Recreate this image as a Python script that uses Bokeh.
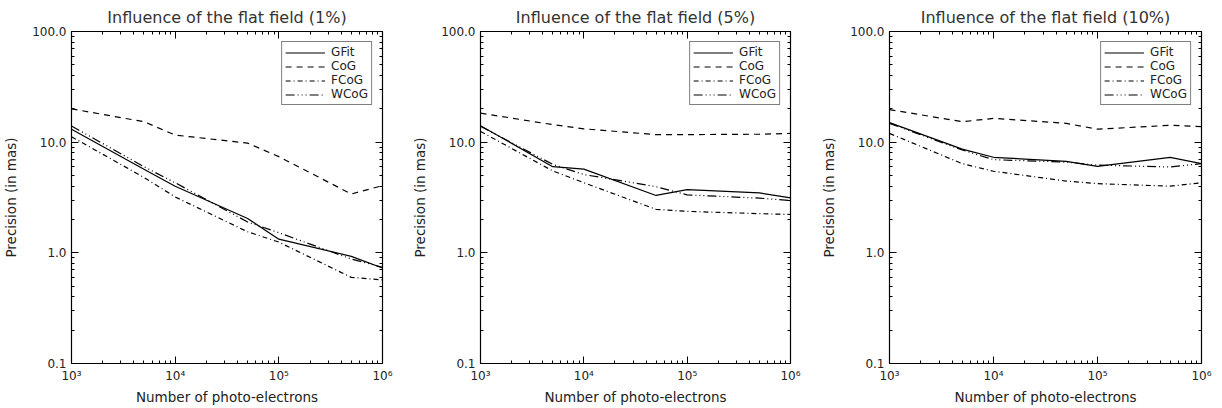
from bokeh.plotting import figure
from bokeh.layouts import row
from bokeh.models import FixedTicker, LogAxis, Legend, LegendItem
from bokeh.embed import file_html
from bokeh.resources import INLINE

photo_electrons = [1e3, 5e3, 1e4, 5e4, 1e5, 5e5, 1e6]
methods = ["GFit", "CoG", "FCoG", "WCoG"]
panel_titles = ["Influence of the flat field (1%)",
                "Influence of the flat field (5%)",
                "Influence of the flat field (10%)"]

gfit_1 = [13.1, 5.7, 4.0, 2.04, 1.33, 0.93, 0.73]
cog_1 = [20.0, 15.3, 11.6, 9.8, 7.4, 3.4, 4.05]
fcog_1 = [11.2, 4.8, 3.2, 1.55, 1.25, 0.6, 0.57]
wcog_1 = [14.0, 6.0, 4.3, 1.9, 1.52, 0.88, 0.74]

gfit_5 = [14.1, 6.0, 5.7, 3.3, 3.72, 3.48, 3.14]
cog_5 = [18.3, 14.4, 13.2, 11.7, 11.7, 11.8, 12.0]
fcog_5 = [12.5, 5.5, 4.3, 2.47, 2.37, 2.26, 2.22]
wcog_5 = [13.9, 6.3, 5.1, 3.96, 3.34, 3.12, 2.97]

gfit_10 = [15.0, 8.65, 7.3, 6.7, 6.05, 7.3, 6.4]
cog_10 = [19.7, 15.3, 16.4, 14.8, 13.1, 14.2, 13.8]
fcog_10 = [12.0, 6.4, 5.46, 4.45, 4.22, 4.0, 4.3]
wcog_10 = [14.8, 8.5, 6.95, 6.6, 6.2, 5.97, 6.4]

panels_data = [
    [gfit_1, cog_1, fcog_1, wcog_1],
    [gfit_5, cog_5, fcog_5, wcog_5],
    [gfit_10, cog_10, fcog_10, wcog_10],
]

x_ticks = [1e3, 1e4, 1e5, 1e6]
x_tick_labels = ["10³", "10⁴", "10⁵", "10⁶"]
y_ticks = [0.1, 1, 10, 100]
y_tick_labels = ["0.1", "1.0", "10.0", "100.0"]

x_minor = [m * d for d in [1e3, 1e4, 1e5] for m in range(2, 10)]
y_minor = [m * d for d in [0.1, 1, 10] for m in range(2, 10)]

dashes = ["solid", "6 5", "5 3 1 3", "9 3 1 3 1 3 1 3"]
FONT = "DejaVu Sans"
TXT = "#222222"

geom = [(70, 23, 405), (75, 24, 409), (75, 21, 408)]

figs = []
for i, (title, series) in enumerate(zip(panel_titles, panels_data)):
    left, right, w = geom[i]
    p = figure(width=w, height=408, x_axis_type="log", y_axis_type="log",
               x_range=(1e3, 1e6), y_range=(0.1, 100),
               output_backend="svg", toolbar_location=None,
               min_border_left=left, min_border_right=right,
               min_border_top=27, min_border_bottom=45)
    p.title.text = title
    p.title.align = "center"
    p.title.text_font = FONT
    p.title.text_font_size = "16px"
    p.title.text_font_style = "normal"
    p.title.text_color = "#333333"
    p.grid.visible = False
    p.outline_line_color = "black"
    p.outline_line_width = 1.2

    xt = FixedTicker(ticks=x_ticks, minor_ticks=x_minor)
    yt = FixedTicker(ticks=y_ticks, minor_ticks=y_minor)

    p.xaxis.ticker = xt
    p.xaxis.major_label_overrides = dict(zip(x_ticks, x_tick_labels))
    p.xaxis.axis_label = "Number of photo-electrons"
    p.xaxis.axis_label_standoff = 3
    p.yaxis.ticker = yt
    p.yaxis.major_label_overrides = dict(zip(y_ticks, y_tick_labels))
    p.yaxis.axis_label = "Precision (in mas)"
    p.yaxis.axis_label_standoff = 10

    for ax in list(p.xaxis) + list(p.yaxis):
        ax.major_tick_in = 7
        ax.major_tick_out = 0
        ax.minor_tick_in = 3
        ax.minor_tick_out = 0
        ax.axis_line_color = "black"
        ax.major_tick_line_color = "black"
        ax.minor_tick_line_color = "black"
        ax.axis_label_text_font = FONT
        ax.axis_label_text_font_style = "normal"
        ax.axis_label_text_font_size = "13.5px"
        ax.axis_label_text_color = TXT
        ax.major_label_text_font = FONT
        ax.major_label_text_color = TXT
        ax.major_label_text_font_size = "12px"
        ax.major_label_standoff = 5

    top = LogAxis(ticker=xt, major_tick_in=7, major_tick_out=0,
                  minor_tick_in=3, minor_tick_out=0,
                  major_label_text_color=None, major_label_text_font_size="2px",
                  major_label_standoff=0)
    rgt = LogAxis(ticker=yt, major_tick_in=7, major_tick_out=0,
                  minor_tick_in=3, minor_tick_out=0,
                  major_label_text_color=None, major_label_text_font_size="2px",
                  major_label_standoff=0)
    p.add_layout(top, "above")
    p.add_layout(rgt, "right")

    items = []
    for name, vals, dash in zip(methods, series, dashes):
        r = p.line(photo_electrons, vals, line_color="black",
                   line_width=1.2, line_dash=dash)
        items.append(LegendItem(label=name, renderers=[r]))
    leg = Legend(items=items, location="top_right",
                 border_line_color="black", border_line_width=1.2,
                 label_text_font=FONT, label_text_font_size="12px",
                 label_text_line_height=0.9,
                 label_text_color=TXT, spacing=0, padding=3,
                 margin=10, glyph_width=40, glyph_height=11,
                 label_height=11, label_standoff=6)
    p.add_layout(leg)
    figs.append(p)

layout = row(*figs, spacing=0)
open("out.html", "w").write(file_html(layout, INLINE))
